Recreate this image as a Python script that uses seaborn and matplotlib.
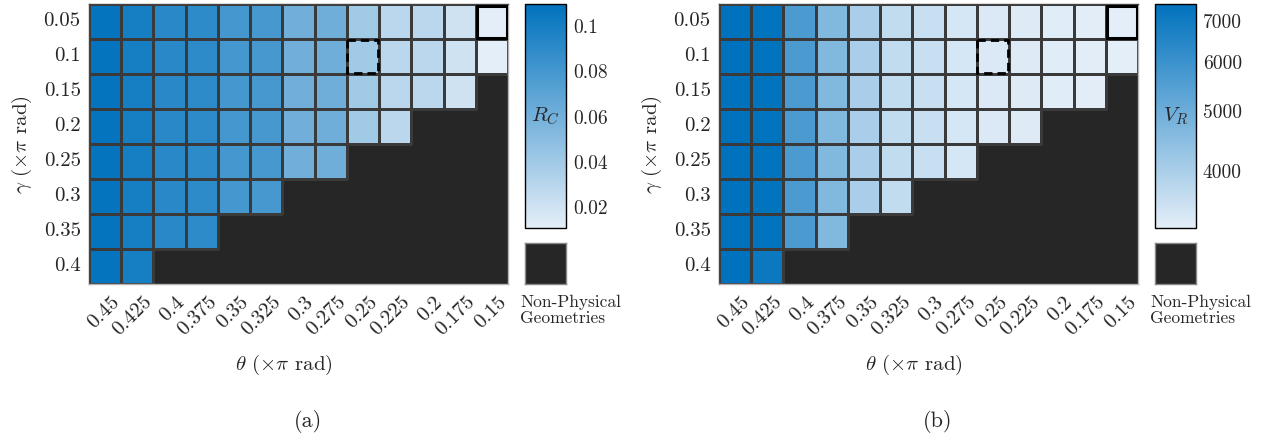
import numpy as np
import pandas as pd
import matplotlib
matplotlib.use("Agg")
import matplotlib.pyplot as plt
import matplotlib.transforms as mtransforms
import seaborn as sns
from matplotlib.colors import LinearSegmentedColormap, Normalize, LogNorm, to_rgba
from matplotlib.patches import Rectangle
from matplotlib.ticker import FixedLocator, NullFormatter

sns.set_theme(style="white")
plt.rcParams["font.family"] = ["serif"]
plt.rcParams["font.serif"] = ["cmr10", "DejaVu Serif"]
plt.rcParams["mathtext.fontset"] = "cm"
plt.rcParams["axes.unicode_minus"] = False
plt.rcParams["axes.formatter.use_mathtext"] = True

# Geometry sweep: wedge angle theta (columns) and tilt gamma (rows), both in units of pi rad
theta_labels = ["0.45", "0.425", "0.4", "0.375", "0.35", "0.325", "0.3",
                "0.275", "0.25", "0.225", "0.2", "0.175", "0.15"]
gamma_labels = ["0.05", "0.1", "0.15", "0.2", "0.25", "0.3", "0.35", "0.4"]

N = np.nan
# Reflection coefficient R_C (NaN = non-physical geometry)
rc_values = [
    [0.108, 0.100, 0.092, 0.090, 0.080, 0.079, 0.061, 0.062, 0.040, 0.029, 0.029, 0.0205, 0.0105],
    [0.108, 0.100, 0.092, 0.090, 0.080, 0.079, 0.061, 0.062, 0.040, 0.029, 0.029, 0.0205, 0.0105],
    [0.108, 0.100, 0.092, 0.090, 0.080, 0.079, 0.061, 0.062, 0.040, 0.029, 0.029, 0.0205, N],
    [0.108, 0.100, 0.092, 0.090, 0.080, 0.079, 0.061, 0.062, 0.040, 0.029, N, N, N],
    [0.108, 0.100, 0.092, 0.090, 0.080, 0.079, 0.061, 0.062, N, N, N, N, N],
    [0.108, 0.100, 0.092, 0.090, 0.080, 0.079, N, N, N, N, N, N, N],
    [0.108, 0.100, 0.092, 0.090, N, N, N, N, N, N, N, N, N],
    [0.108, 0.100, N, N, N, N, N, N, N, N, N, N, N],
]
# Resonance volume V_R (NaN = non-physical geometry)
vr_values = [
    [7450, 7400, 5650, 4650, 4000, 3680, 3580, 3420, 3350, 3310, 3290, 3255, 3230],
    [7450, 7400, 5650, 4650, 4000, 3680, 3580, 3420, 3350, 3310, 3290, 3255, 3230],
    [7450, 7400, 5650, 4650, 4000, 3680, 3580, 3420, 3350, 3310, 3290, 3255, N],
    [7450, 7400, 5650, 4650, 4000, 3680, 3580, 3420, 3350, 3310, N, N, N],
    [7450, 7400, 5650, 4650, 4000, 3680, 3580, 3420, N, N, N, N, N],
    [7450, 7400, 5650, 4650, 4000, 3680, N, N, N, N, N, N, N],
    [7450, 7400, 5650, 4650, N, N, N, N, N, N, N, N, N],
    [7450, 7150, N, N, N, N, N, N, N, N, N, N, N],
]
rc_ticks = [0.02, 0.04, 0.06, 0.08, 0.1]
rc_ticklabels = ["0.02", "0.04", "0.06", "0.08", "0.1"]
vr_ticks = [4000, 5000, 6000, 7000]
vr_ticklabels = ["4000", "5000", "6000", "7000"]
vr_minor = [3400, 3600, 3800, 4200, 4400, 4600, 4800, 5200, 5400, 5600, 5800,
            6200, 6400, 6600, 6800, 7200, 7400]

cmap = LinearSegmentedColormap.from_list("blues_m", ["#e4eef8", "#0072bd"])
NONPHYS = "#262626"
GRID = "#3a3a3a"
W, H = 1262, 448

fig = plt.figure(figsize=(W / 100, H / 100), dpi=100)


def fx(px):
    return px / W


def fy(px):
    return 1 - px / H


panels = [
    dict(x0=89, cb_x=525, data=rc_values, norm=Normalize(0.0105, 0.110),
         ticks=rc_ticks, ticklabels=rc_ticklabels, minor=None,
         label=r"$R_C$", tag="(a)"),
    dict(x0=719, cb_x=1155, data=vr_values, norm=LogNorm(3230, 7450),
         ticks=vr_ticks, ticklabels=vr_ticklabels, minor=vr_minor,
         label=r"$V_R$", tag="(b)"),
]

for p in panels:
    df = pd.DataFrame(p["data"], index=gamma_labels, columns=theta_labels, dtype=float)
    ax = fig.add_axes([fx(p["x0"]), fy(284), fx(419), 280 / H])
    cax = fig.add_axes([fx(p["cb_x"]), fy(228), fx(41), 224 / H])
    ax.set_facecolor(NONPHYS)
    sns.heatmap(df, ax=ax, cmap=cmap, norm=p["norm"], cbar=True, cbar_ax=cax,
                linewidths=0.75, linecolor=GRID, square=False)

    # cell borders only around physical geometries
    mesh = ax.collections[0]
    valid = ~np.isnan(df.values.ravel())
    mesh.set_edgecolor([to_rgba(GRID) if v else (0, 0, 0, 0) for v in valid])

    # axis frame
    for side, sp in ax.spines.items():
        sp.set_visible(True)
        sp.set_linewidth(1.0)
        sp.set_color("#444444" if side in ("left", "top") else "#b5b5b5")

    ax.set_xlabel("")
    ax.set_ylabel("")
    ax.tick_params(axis="both", length=0, labelsize=15)
    ax.set_yticklabels(gamma_labels, rotation=0)
    ax.tick_params(axis="y", pad=6)
    ax.set_xticklabels(theta_labels, rotation=45, ha="right",
                       rotation_mode="anchor", va="center")
    ax.tick_params(axis="x", pad=11)
    shift = mtransforms.ScaledTranslation(12 / 100, 0, fig.dpi_scale_trans)
    for lab in ax.get_xticklabels():
        lab.set_transform(lab.get_transform() + shift)

    # highlighted geometries
    ax.add_patch(Rectangle((12.03, 0.06), 0.94, 0.9, fill=False,
                           edgecolor="black", linewidth=2.2, zorder=5))
    ax.add_patch(Rectangle((8.02, 1.02), 0.96, 0.96, fill=False,
                           edgecolor="black", linewidth=2.0,
                           linestyle=(0, (3, 1.8)), zorder=5))

    xc = p["x0"] + 209.5
    fig.text(fx(xc - 15), fy(365), r"$\theta$ ($\times\pi$ rad)", ha="center",
             va="center", fontsize=15)
    fig.text(fx(p["x0"] - 67), fy(145), r"$\gamma$ ($\times\pi$ rad)", ha="center",
             va="center", fontsize=15, rotation=90)
    fig.text(fx(xc + 9), fy(421), p["tag"], ha="center", va="center", fontsize=16)

    # colorbar
    cb = mesh.colorbar
    cb.outline.set_edgecolor("black")
    cb.outline.set_linewidth(1.0)
    cax.yaxis.set_major_locator(FixedLocator(p["ticks"]))
    cax.set_yticklabels(p["ticklabels"])
    if p["minor"] is not None:
        cax.yaxis.set_minor_locator(FixedLocator(p["minor"]))
        cax.yaxis.set_minor_formatter(NullFormatter())
        cax.tick_params(which="minor", direction="in", length=2, width=0.6, right=True)
    else:
        cax.minorticks_off()
    cax.tick_params(which="major", direction="in", length=4, width=0.8,
                    labelsize=14, right=True, pad=5)
    cax.text(0.5, 0.5, p["label"], transform=cax.transAxes, ha="center",
             va="center", fontsize=15)

    # swatch for non-physical geometries
    sax = fig.add_axes([fx(p["cb_x"]), fy(284), fx(41), 41 / H])
    sax.set_facecolor(NONPHYS)
    sax.set_xticks([])
    sax.set_yticks([])
    for sp in sax.spines.values():
        sp.set_visible(True)
        sp.set_color("#888888")
        sp.set_linewidth(1.0)
    fig.text(fx(p["cb_x"] - 5), fy(295), "Non-Physical\nGeometries", ha="left",
             va="top", fontsize=12.5, linespacing=1.05)

fig.savefig("out.png", dpi=100)
